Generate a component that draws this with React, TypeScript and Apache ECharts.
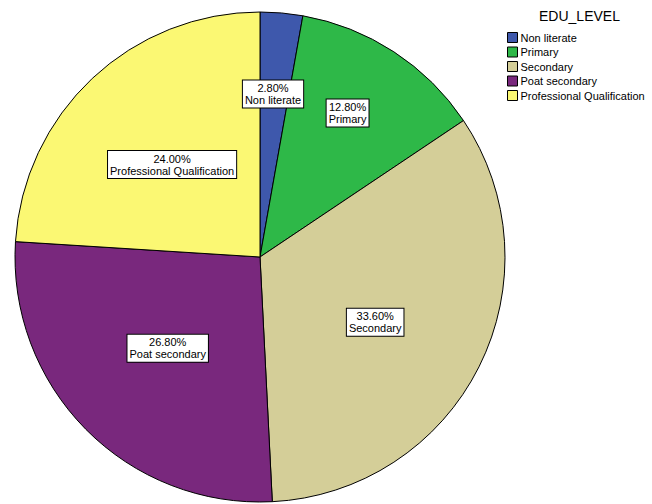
import React, { useEffect, useRef } from "react";
import * as echarts from "echarts";

const categories = ["Non literate", "Primary", "Secondary", "Poat secondary", "Professional Qualification"];
const percents = [2.8, 12.8, 33.6, 26.8, 24.0];
const legendTitle = "EDU_LEVEL";

const colors = ["#3E58AC", "#2EB848", "#D4CE98", "#79287D", "#FBF873"];
const labelOffsets: number[][] = [[2, -38], [19, -39], [3, 9], [-3, 3], [-2, -1]];

export default function App() {
  const ref = useRef<HTMLDivElement>(null);
  useEffect(() => {
    if (!ref.current) return;
    const chart = echarts.init(ref.current, undefined, { renderer: "svg" });
    const font = "Liberation Sans, Arial, sans-serif";
    chart.setOption({
      animation: false,
      backgroundColor: "#ffffff",
      title: {
        text: legendTitle,
        left: 539,
        top: 9,
        padding: 0,
        textStyle: { fontSize: 14, fontWeight: "normal", color: "#000", fontFamily: font },
      },
      legend: {
        orient: "vertical",
        left: 507,
        top: 32,
        padding: 0,
        itemWidth: 10,
        itemHeight: 10,
        itemGap: 3.5,
        icon: "rect",
        selectedMode: false,
        itemStyle: { borderColor: "#000", borderWidth: 1 },
        textStyle: { fontSize: 11, color: "#000", fontFamily: font, padding: [0, 0, 0, -2] },
        data: categories,
      },
      series: [
        {
          type: "pie",
          center: [260, 257],
          radius: 245,
          startAngle: 90,
          clockwise: true,
          avoidLabelOverlap: false,
          itemStyle: { borderColor: "#000", borderWidth: 1 },
          emphasis: { disabled: true },
          labelLine: { show: false },
          label: {
            show: true,
            position: "inside",
            color: "#000",
            fontSize: 11,
            lineHeight: 12,
            fontFamily: font,
            backgroundColor: "#fff",
            borderColor: "#000",
            borderWidth: 1,
            padding: [2, 2, 1, 2],
            align: "center",
            formatter: (p: any) => `${Number(p.value).toFixed(2)}%\n${p.name}`,
          },
          data: categories.map((c, i) => ({
            name: c,
            value: percents[i],
            itemStyle: { color: colors[i] },
            label: { offset: labelOffsets[i] },
          })),
        },
      ],
    });
    return () => chart.dispose();
  }, []);
  return (
    <div
      ref={ref}
      style={{ position: "fixed", left: 0, top: 0, width: 652, height: 504, background: "#fff" }}
    />
  );
}
